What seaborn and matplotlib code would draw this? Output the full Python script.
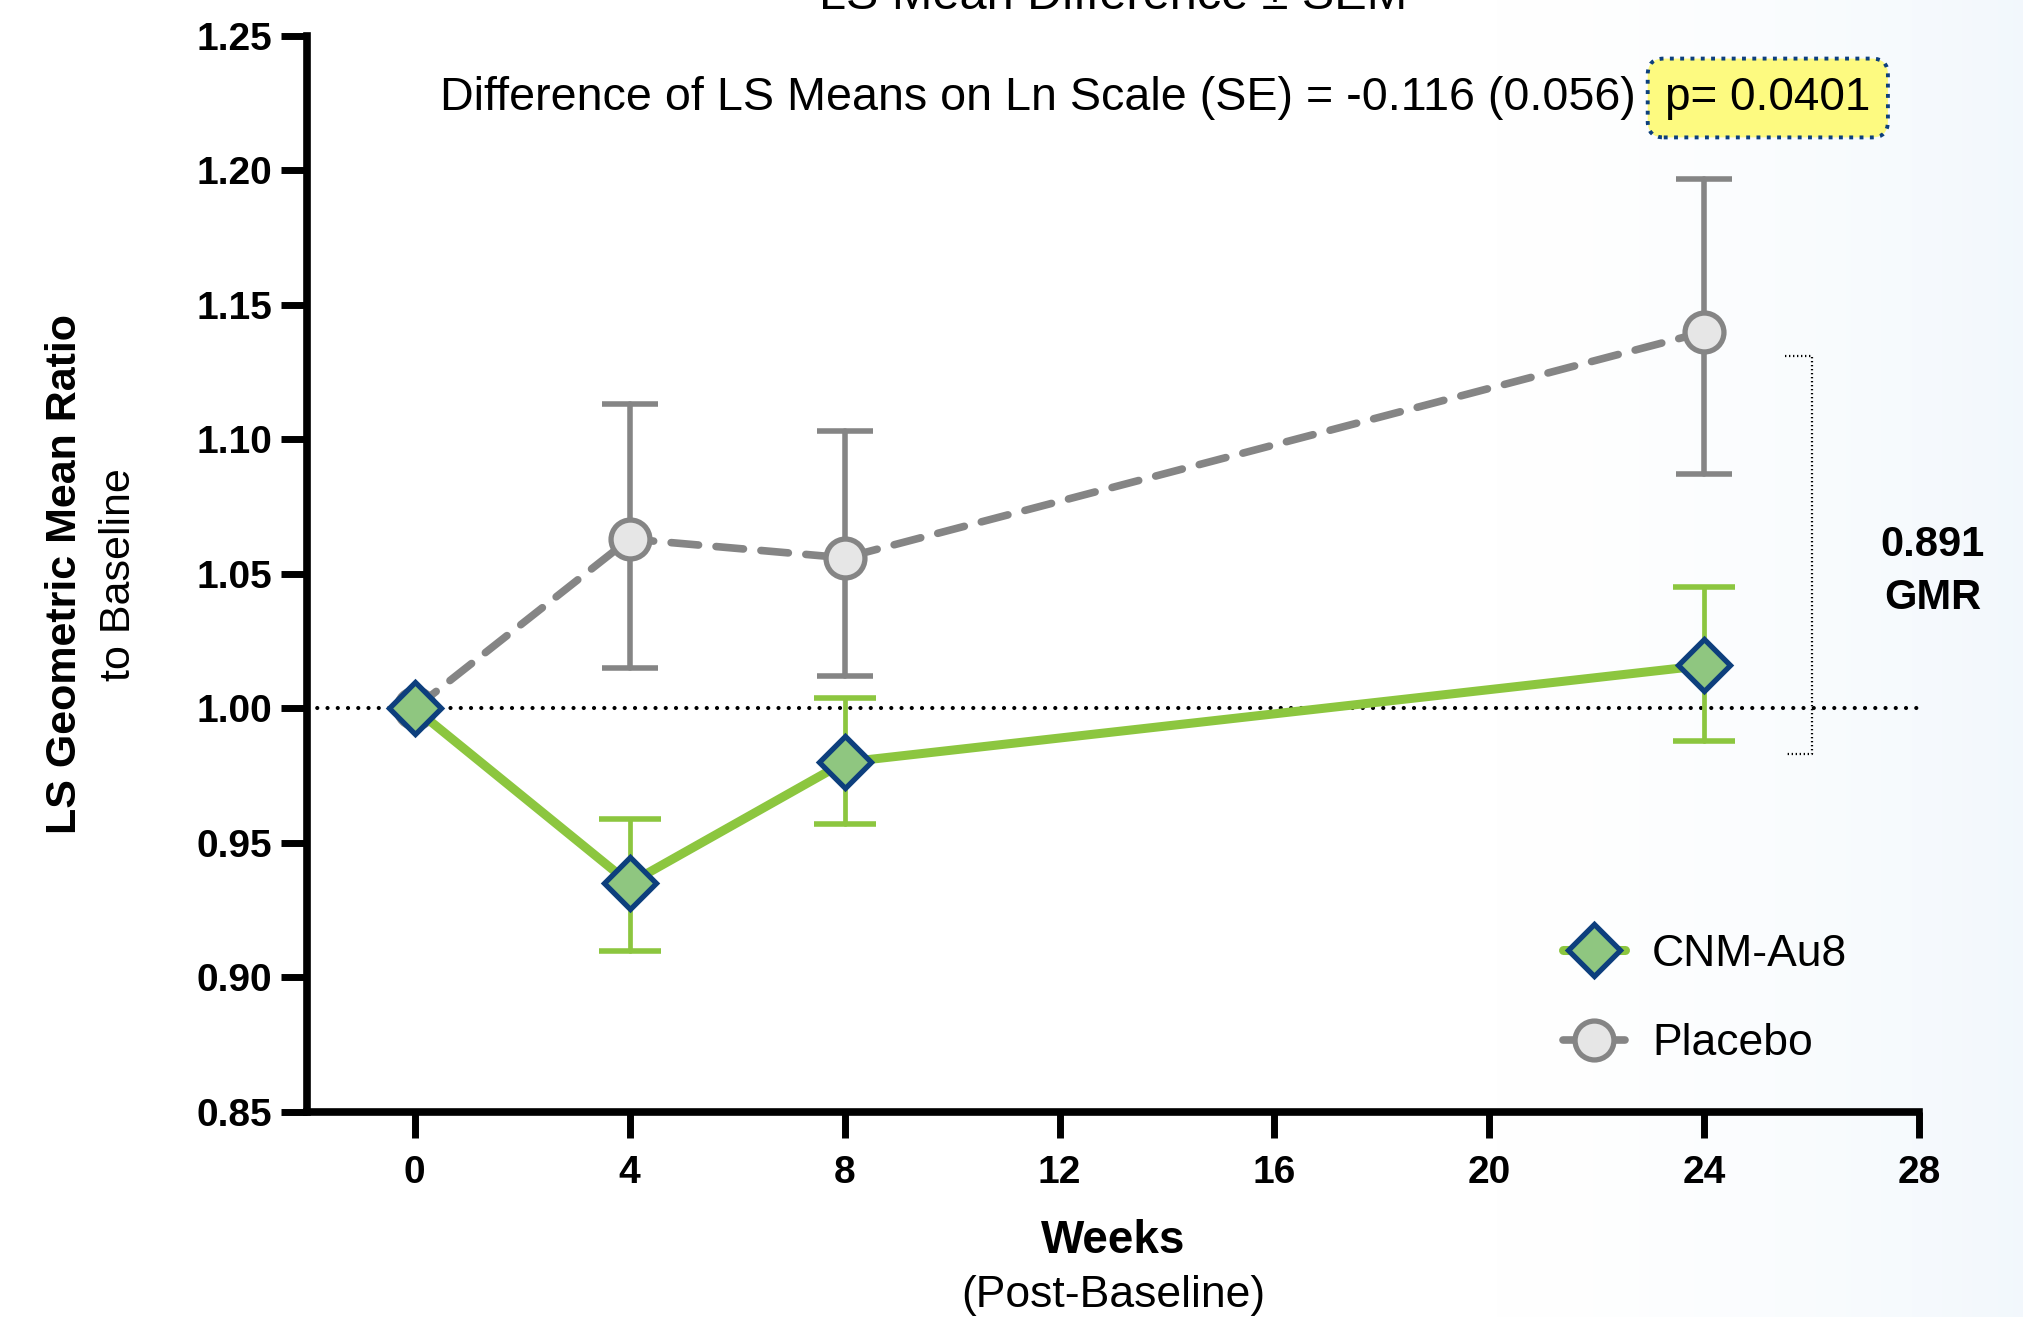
import numpy as np
import pandas as pd
import matplotlib
matplotlib.use('Agg')
import matplotlib.pyplot as plt
import seaborn as sns
from matplotlib.lines import Line2D

# LS geometric mean ratio to baseline
weeks = [0, 4, 8, 24]
cnm_mean = [1.000, 0.935, 0.980, 1.016]
cnm_upper = [1.000, 0.959, 1.004, 1.045]
cnm_lower = [1.000, 0.910, 0.957, 0.988]
placebo_mean = [1.000, 1.063, 1.056, 1.140]
placebo_upper = [1.000, 1.113, 1.103, 1.197]
placebo_lower = [1.000, 1.015, 1.012, 1.087]

series_names = ['CNM-Au8', 'Placebo']
x_ticks = [0, 4, 8, 12, 16, 20, 24, 28]
y_ticks = [0.85, 0.90, 0.95, 1.00, 1.05, 1.10, 1.15, 1.20, 1.25]

title_text = 'LS Mean Difference \u00b1 SEM'
subtitle_text = 'Difference of LS Means on Ln Scale (SE) = -0.116 (0.056)'
p_text = 'p= 0.0401'
gmr_text = '0.891\nGMR'
gmr_bracket = [1.131, 0.983]

GREEN = '#8cc63f'
DIAMOND_FILL = '#8fc680'
NAVY = '#0d3f7d'
GREY = '#858585'
CIRCLE_FILL = '#e6e6e6'


def make_frame(mean, lower, upper):
    """Collect one series into a small table."""
    df = pd.DataFrame({'week': weeks, 'mean': mean,
                       'lower': lower, 'upper': upper})
    df['err_lo'] = df['mean'] - df['lower']
    df['err_hi'] = df['upper'] - df['mean']
    return df


def add_background(fig):
    """Faint blue wash on the right side of the slide."""
    bg = fig.add_axes([0, 0, 1, 1], zorder=-10)
    xs = np.linspace(0, 1, 400)
    ramp = np.clip((xs - 0.74) / 0.26, 0, 1) ** 1.5
    white = np.array([1.0, 1.0, 1.0])
    blue = np.array([0.95, 0.972, 0.99])
    row = white[None, :] * (1 - ramp[:, None]) + blue[None, :] * ramp[:, None]
    bg.imshow(row[None, :, :], aspect='auto', extent=[0, 1, 0, 1])
    bg.set_axis_off()


def main():
    sns.set_style('ticks')
    plt.rcParams['font.family'] = ['Liberation Sans', 'DejaVu Sans']
    for key in ['text.color', 'axes.labelcolor', 'xtick.color',
                'ytick.color', 'axes.edgecolor']:
        plt.rcParams[key] = 'black'

    fig = plt.figure(figsize=(20.23, 13.17), dpi=100)
    add_background(fig)
    ax = fig.add_axes([0.1518, 0.1557, 0.797, 0.817])
    ax.patch.set_alpha(0)

    cnm = make_frame(cnm_mean, cnm_lower, cnm_upper)
    pla = make_frame(placebo_mean, placebo_lower, placebo_upper)

    # reference line at 1.00
    ax.axhline(1.0, xmin=0, xmax=1, color='black', lw=3,
               ls=(0, (0.01, 2.45)), dash_capstyle='round', zorder=1.5)

    # placebo
    pe = pla[pla['week'] > 0]
    ax.errorbar(pe['week'], pe['mean'], yerr=[pe['err_lo'], pe['err_hi']],
                fmt='none', ecolor=GREY, elinewidth=4, capsize=20,
                capthick=4, zorder=2)
    sns.lineplot(data=pla, x='week', y='mean', ax=ax, color=GREY, lw=5.5,
                 errorbar=None, marker='o', markersize=28,
                 markerfacecolor=CIRCLE_FILL, markeredgecolor=GREY,
                 markeredgewidth=3.8, zorder=3)
    line = ax.lines[-1]
    line.set_linestyle((0, (3.6, 2.3)))
    line.set_dash_capstyle('round')

    # CNM-Au8
    ce = cnm[cnm['week'] > 0]
    ax.errorbar(ce['week'], ce['mean'], yerr=[ce['err_lo'], ce['err_hi']],
                fmt='none', ecolor=GREEN, elinewidth=3.4, capsize=22,
                capthick=4, zorder=4)
    sns.lineplot(data=cnm, x='week', y='mean', ax=ax, color=GREEN, lw=6.5,
                 errorbar=None, marker='D', markersize=26,
                 markerfacecolor=DIAMOND_FILL, markeredgecolor=NAVY,
                 markeredgewidth=3.8, zorder=5)
    for artist in ax.lines + ax.collections:
        try:
            artist.set_capstyle('round')
        except AttributeError:
            pass

    # GMR bracket
    ax.plot([25.5, 26, 26, 25.5], [gmr_bracket[0], gmr_bracket[0],
                                   gmr_bracket[1], gmr_bracket[1]],
            color='black', lw=1.6, ls=(0, (0.6, 1.2)), zorder=2)
    ax.text(28.25, 1.051, gmr_text, ha='center', va='center',
            fontsize=30, fontweight='bold', linespacing=1.42, clip_on=False)

    ax.set_xlim(-2, 28)
    ax.set_ylim(0.85, 1.25)
    ax.set_xticks(x_ticks)
    ax.set_yticks(y_ticks)
    ax.set_yticklabels([f'{v:.2f}' for v in y_ticks])
    ax.set_xlabel('')
    ax.set_ylabel('')
    ax.tick_params(direction='out', length=19, width=5, labelsize=28,
                   color='black', labelcolor='black')
    ax.tick_params(axis='x', pad=12)
    ax.tick_params(axis='y', pad=6)
    for lab in ax.get_xticklabels() + ax.get_yticklabels():
        lab.set_fontweight('bold')
    for side in ['top', 'right']:
        ax.spines[side].set_visible(False)
    for side in ['left', 'bottom']:
        ax.spines[side].set_linewidth(5.5)
        ax.spines[side].set_color('black')

    # legend
    handles = [
        Line2D([], [], color=GREEN, lw=6.5, solid_capstyle='round',
               marker='D', markersize=26, markerfacecolor=DIAMOND_FILL,
               markeredgecolor=NAVY, markeredgewidth=3.8),
        Line2D([], [], color=GREY, lw=5.5, solid_capstyle='round',
               marker='o', markersize=28, markerfacecolor=CIRCLE_FILL,
               markeredgecolor=GREY, markeredgewidth=3.8),
    ]
    ax.legend(handles, series_names, loc='center left',
              bbox_to_anchor=(0.779, 0.105), frameon=False, fontsize=32,
              handlelength=1.4, handletextpad=0.6, labelspacing=1.1,
              borderpad=0, borderaxespad=0)

    # titles and axis labels as figure text
    fig.text(0.5504, 1 - 9 / 1317, title_text, ha='center', va='baseline',
             fontsize=35)
    fig.text(0.8085, 1 - 110 / 1317, subtitle_text, ha='right',
             va='baseline', fontsize=33.6)
    fig.text(0.8231, 1 - 110 / 1317, p_text, ha='left', va='baseline',
             fontsize=33,
             bbox=dict(boxstyle='round,pad=0.38,rounding_size=0.35',
                       fc='#fdfa80', ec=NAVY, lw=2.8, ls=':'))
    fig.text(0.5504, 1 - 1253 / 1317, 'Weeks', ha='center', va='baseline',
             fontsize=33, fontweight='bold')
    fig.text(0.5504, 1 - 1307 / 1317, '(Post-Baseline)', ha='center',
             va='baseline', fontsize=32)
    fig.text(0.0319, 0.564, 'LS Geometric Mean Ratio', rotation=90,
             ha='center', va='center', fontsize=31, fontweight='bold')
    fig.text(0.0587, 0.564, 'to Baseline', rotation=90, ha='center',
             va='center', fontsize=31)

    fig.savefig('out.png', dpi=100)


if __name__ == '__main__':
    main()
